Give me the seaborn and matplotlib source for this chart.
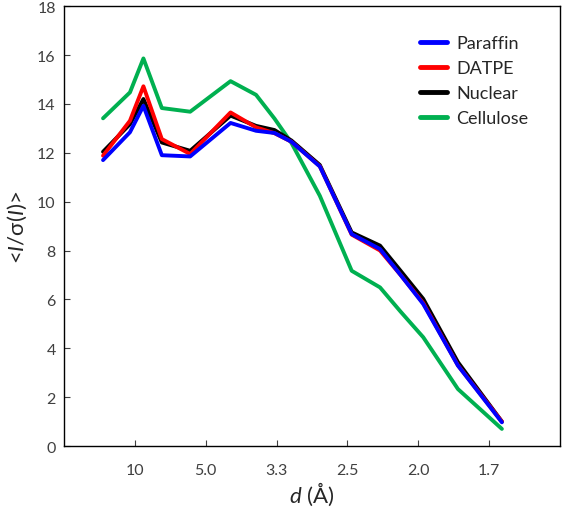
import numpy as np
import pandas as pd
import seaborn as sns
import matplotlib.pyplot as plt

# resolution shells, plotted as 1/d
inv_d = [0.055, 0.093, 0.112, 0.138, 0.178, 0.235, 0.271, 0.297, 0.321,
         0.361, 0.406, 0.446, 0.475, 0.507, 0.556, 0.618]

paraffin = [11.70, 12.84, 13.92, 11.90, 11.85, 13.22, 12.90, 12.81, 12.45,
            11.44, 8.67, 8.06, 7.00, 5.81, 3.29, 0.97]
datpe = [11.88, 13.31, 14.72, 12.56, 11.95, 13.65, 13.04, 12.80, 12.45,
         11.45, 8.65, 8.00, 7.00, 5.85, 3.30, 1.00]
nuclear = [12.04, 13.17, 14.20, 12.42, 12.08, 13.52, 13.10, 12.93, 12.50,
           11.50, 8.74, 8.20, 7.17, 6.02, 3.43, 1.00]
cellulose = [13.41, 14.47, 15.86, 13.83, 13.68, 14.93, 14.37, 13.40, 12.40,
             10.24, 7.17, 6.49, 5.50, 4.45, 2.33, 0.70]

samples = ['Paraffin', 'DATPE', 'Nuclear', 'Cellulose']
colors = ['#0000FF', '#FF0000', '#000000', '#00B050']

tick_pos = [0.1, 0.2, 0.3, 0.4, 0.5, 0.6]
tick_labels = ['10', '5.0', '3.3', '2.5', '2.0', '1.7']

df = pd.concat([
    pd.DataFrame({'inv_d': inv_d, 'val': v, 'sample': s})
    for s, v in zip(samples, [paraffin, datpe, nuclear, cellulose])
])

sns.set_style('ticks')
plt.rcParams['font.family'] = ['Lato', 'DejaVu Sans']
plt.rcParams['mathtext.fontset'] = 'custom'
plt.rcParams['mathtext.it'] = 'Lato:italic'
plt.rcParams['mathtext.rm'] = 'Lato'

fig = plt.figure(figsize=(5.62, 5.10), dpi=100)
ax = fig.add_axes([0.114, 0.1235, 0.8824, 0.8625])

# draw cellulose first so paraffin sits on top, as in the original
sns.lineplot(data=df, x='inv_d', y='val', hue='sample',
             hue_order=samples[::-1], palette=colors[::-1],
             linewidth=2.8, sort=False, ax=ax)

ax.set_xlim(0, 0.7)
ax.set_ylim(0, 18)
ax.set_xticks(tick_pos)
ax.set_xticklabels(tick_labels)
ax.set_yticks(range(0, 19, 2))
ax.tick_params(direction='in', length=4, labelsize=11.5, colors='#404040',
               pad=6)
ax.tick_params(axis='x', pad=12)
for sp in ax.spines.values():
    sp.set_color('#000000')
    sp.set_linewidth(1.0)

ax.set_xlabel(r'$\mathit{d}$ (Å)', fontsize=16, labelpad=2)
ax.set_ylabel(r'<$\mathit{I}$/σ($\mathit{I}$)>', fontsize=16, labelpad=6)

handles, labels = ax.get_legend_handles_labels()
order = [labels.index(s) for s in samples]
leg = ax.legend([handles[i] for i in order], [labels[i] for i in order],
                frameon=False, fontsize=13, loc='upper left',
                bbox_to_anchor=(0.70, 0.955), borderpad=0,
                handlelength=1.5, handletextpad=0.5, labelspacing=0.5)
for line in leg.get_lines():
    line.set_linewidth(3.5)

fig.savefig('out.png', dpi=100)
